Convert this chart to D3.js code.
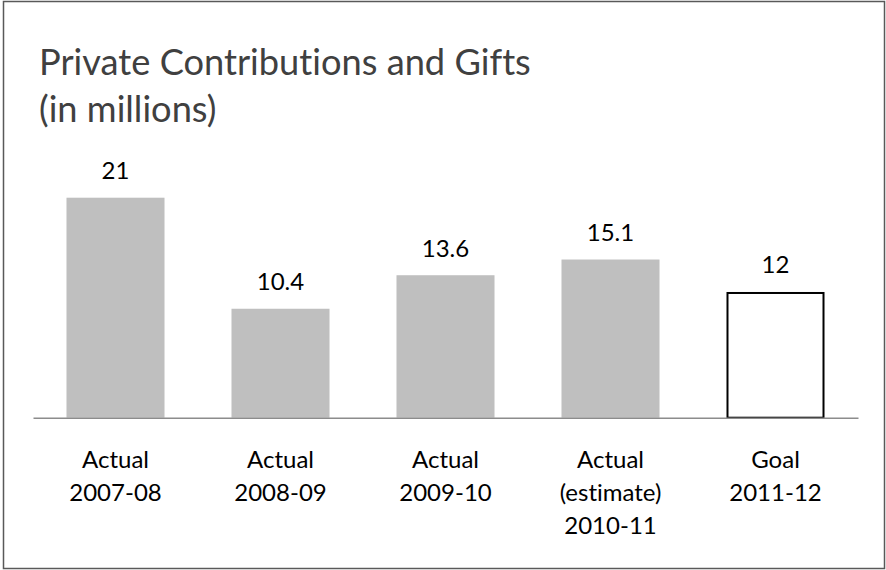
<!DOCTYPE html>
<html>
<head>
<meta charset="utf-8">
<script src="https://cdn.jsdelivr.net/npm/d3@7/dist/d3.min.js"></script>
<style>
  html, body { margin: 0; padding: 0; background: #ffffff; }
  svg { display: block; }
  text { font-variant-ligatures: none; }
</style>
</head>
<body>
<svg id="chart" width="886" height="570"></svg>
<script>
// ---- data ----
const titleLines = ["Private Contributions and Gifts", "(in millions)"];
const categories = [
  ["Actual", "2007-08"],
  ["Actual", "2008-09"],
  ["Actual", "2009-10"],
  ["Actual", "(estimate)", "2010-11"],
  ["Goal", "2011-12"]
];
const values = [21, 10.4, 13.6, 15.1, 12];
const valueLabels = ["21", "10.4", "13.6", "15.1", "12"];
const isGoal = [false, false, false, false, true];
const yDomain = [0, 25];

// ---- layout ----
const W = 886, H = 570;
const FONT = "Lato, 'Open Sans', 'Noto Sans', sans-serif";
const svg = d3.select("#chart");

// fit font sizes to reference widths
function measure(text, size) {
  const t = svg.append("text").attr("font-family", FONT).attr("font-size", size).text(text);
  const w = t.node().getComputedTextLength();
  t.remove();
  return w;
}
const titleSize = 100 * 492 / measure(titleLines[0], 100);
const labelSize = 100 * 67 / measure("Actual", 100);

// outer border
svg.append("rect")
  .attr("x", 3.5).attr("y", 1.5)
  .attr("width", 881).attr("height", 567)
  .attr("fill", "#ffffff")
  .attr("stroke", "#595959")
  .attr("stroke-width", 1.5);

// title
const title = svg.append("text")
  .attr("font-family", FONT)
  .attr("font-size", titleSize)
  .attr("fill", "#404040");
titleLines.forEach((line, i) => {
  title.append("tspan").attr("x", 39).attr("y", 75 + i * 47).text(line);
});

const x0 = 33, x1 = 858, baseY = 417.7;
const x = d3.scaleBand()
  .domain(d3.range(values.length))
  .range([x0, x1])
  .paddingInner(0.406)
  .paddingOuter(0.203);

const y = d3.scaleLinear()
  .domain(yDomain)
  .range([baseY, baseY - 25 * 10.476]);

// bars
svg.append("g").selectAll("rect")
  .data(values)
  .join("rect")
  .attr("x", (d, i) => x(i) + (isGoal[i] ? 1 : 0))
  .attr("width", (d, i) => x.bandwidth() - (isGoal[i] ? 2 : 0))
  .attr("y", (d, i) => y(d) + (isGoal[i] ? 1 : 0))
  .attr("height", (d, i) => y(0) - y(d) - (isGoal[i] ? 1 : 0))
  .attr("fill", (d, i) => isGoal[i] ? "#ffffff" : "#BFBFBF")
  .attr("stroke", (d, i) => isGoal[i] ? "#000000" : "none")
  .attr("stroke-width", 2);

// baseline (category axis)
const xAxis = d3.axisBottom(x).tickSize(0).tickFormat("");
const axisG = svg.append("g")
  .attr("transform", `translate(0,${baseY})`)
  .call(xAxis);
axisG.select(".domain")
  .attr("stroke", "#8C8C8C")
  .attr("stroke-width", 1.6);

// value labels
svg.append("g").selectAll("text")
  .data(values)
  .join("text")
  .attr("x", (d, i) => x(i) + x.bandwidth() / 2)
  .attr("y", d => y(d) - 18.5)
  .attr("text-anchor", "middle")
  .attr("font-family", FONT)
  .attr("font-size", labelSize)
  .attr("fill", "#000000")
  .text((d, i) => valueLabels[i]);

// category labels
const catG = svg.append("g");
categories.forEach((lines, i) => {
  const t = catG.append("text")
    .attr("text-anchor", "middle")
    .attr("font-family", FONT)
    .attr("font-size", labelSize)
    .attr("fill", "#000000");
  lines.forEach((ln, j) => {
    t.append("tspan")
      .attr("x", x(i) + x.bandwidth() / 2)
      .attr("y", 468 + j * 33)
      .text(ln);
  });
});
</script>
</body>
</html>
